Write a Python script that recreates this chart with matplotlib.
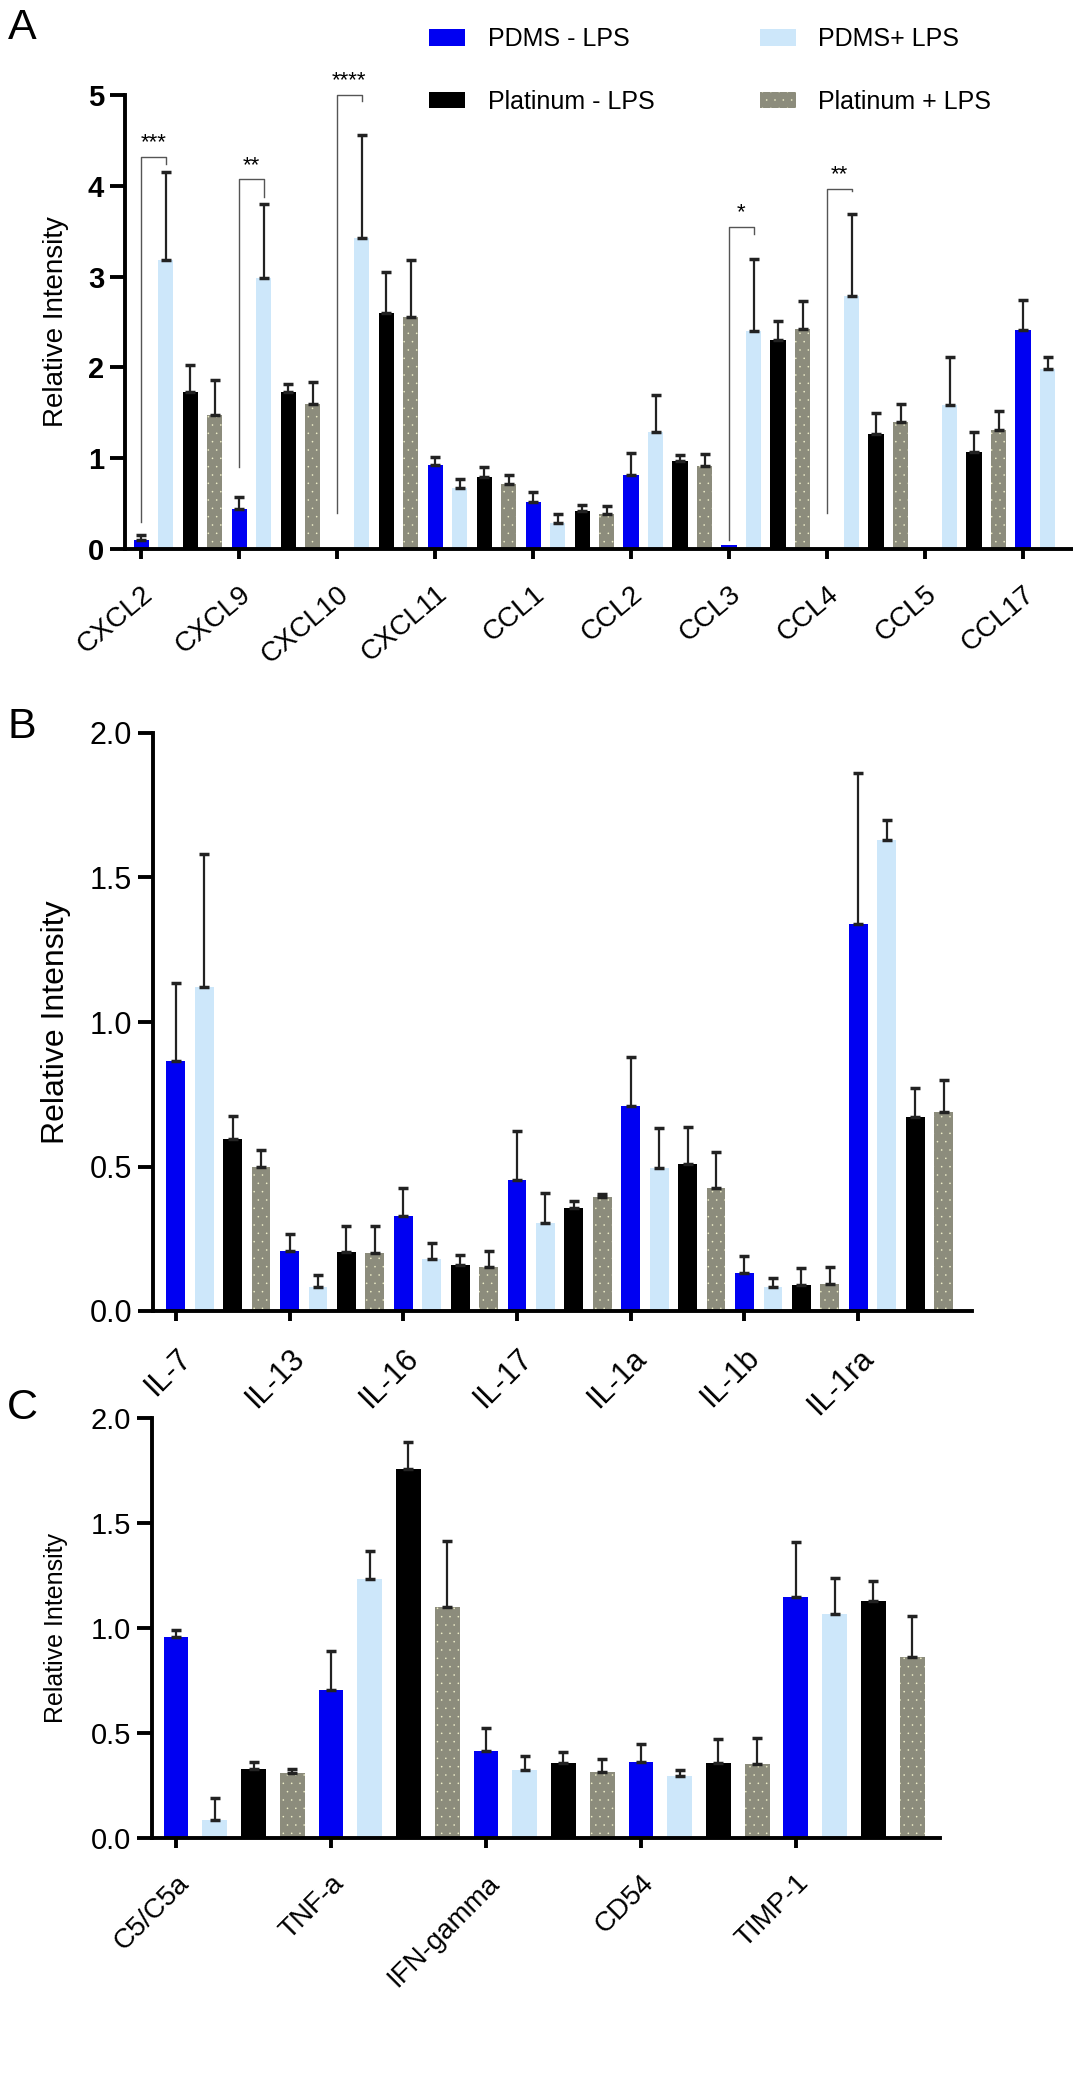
import numpy as np
import matplotlib
matplotlib.use("Agg")
import matplotlib.pyplot as plt
from matplotlib.patches import Patch

plt.rcParams['font.family'] = ['Liberation Sans', 'DejaVu Sans']
plt.rcParams['hatch.linewidth'] = 0.0

# ---- data ----
series = ['PDMS - LPS', 'PDMS+ LPS', 'Platinum - LPS', 'Platinum + LPS']

# panel A: chemokines
chemokines = ['CXCL2', 'CXCL9', 'CXCL10', 'CXCL11', 'CCL1', 'CCL2', 'CCL3', 'CCL4', 'CCL5', 'CCL17']
a_pdms_minus = [0.10, 0.44, 0.0, 0.93, 0.52, 0.81, 0.04, 0.0, 0.0, 2.41]
a_pdms_minus_sd = [0.05, 0.13, 0.0, 0.08, 0.11, 0.25, 0.0, 0.0, 0.0, 0.33]
a_pdms_plus = [3.18, 2.98, 3.43, 0.67, 0.29, 1.29, 2.40, 2.79, 1.59, 1.98]
a_pdms_plus_sd = [0.97, 0.82, 1.13, 0.10, 0.10, 0.41, 0.79, 0.90, 0.52, 0.13]
a_plat_minus = [1.73, 1.73, 2.60, 0.79, 0.42, 0.97, 2.30, 1.27, 1.07, np.nan]
a_plat_minus_sd = [0.30, 0.09, 0.45, 0.11, 0.07, 0.06, 0.21, 0.23, 0.22, np.nan]
a_plat_plus = [1.48, 1.60, 2.55, 0.72, 0.38, 0.91, 2.42, 1.40, 1.31, np.nan]
a_plat_plus_sd = [0.38, 0.24, 0.63, 0.10, 0.09, 0.14, 0.31, 0.20, 0.21, np.nan]

# significance (PDMS - LPS vs PDMS+ LPS)
sig_groups = [0, 1, 2, 6, 7]
sig_stars = ['***', '**', '****', '*', '**']
sig_top = [4.32, 4.07, 5.0, 3.55, 3.97]
sig_right_low = [4.24, 3.88, 4.93, 3.47, 3.94]
sig_left_low = [0.30, 0.90, 0.40, 0.10, 0.40]

# panel B: interleukins
interleukins = ['IL-7', 'IL-13', 'IL-16', 'IL-17', 'IL-1a', 'IL-1b', 'IL-1ra']
b_pdms_minus = [0.865, 0.206, 0.327, 0.453, 0.71, 0.132, 1.34]
b_pdms_minus_sd = [0.27, 0.06, 0.10, 0.17, 0.17, 0.06, 0.52]
b_pdms_plus = [1.12, 0.083, 0.181, 0.305, 0.494, 0.083, 1.63]
b_pdms_plus_sd = [0.46, 0.04, 0.054, 0.105, 0.14, 0.031, 0.07]
b_plat_minus = [0.595, 0.204, 0.159, 0.357, 0.509, 0.089, 0.67]
b_plat_minus_sd = [0.08, 0.089, 0.035, 0.023, 0.126, 0.059, 0.10]
b_plat_plus = [0.499, 0.201, 0.151, 0.395, 0.426, 0.093, 0.69]
b_plat_plus_sd = [0.057, 0.092, 0.058, 0.011, 0.125, 0.06, 0.11]

# panel C: other markers
markers = ['C5/C5a', 'TNF-a', 'IFN-gamma', 'CD54', 'TIMP-1']
c_pdms_minus = [0.955, 0.706, 0.415, 0.36, 1.15]
c_pdms_minus_sd = [0.035, 0.186, 0.11, 0.09, 0.26]
c_pdms_plus = [0.085, 1.234, 0.325, 0.293, 1.067]
c_pdms_plus_sd = [0.105, 0.135, 0.065, 0.03, 0.17]
c_plat_minus = [0.33, 1.755, 0.355, 0.355, 1.128]
c_plat_minus_sd = [0.03, 0.131, 0.055, 0.115, 0.098]
c_plat_plus = [0.31, 1.098, 0.315, 0.352, 0.863]
c_plat_plus_sd = [0.02, 0.315, 0.06, 0.125, 0.195]

# ---- styling ----
colors = ['#0000f2', '#cde7fa', '#000000', '#8c8c7c']
hatches = [None, None, None, '..']
hatch_col = '#eeeec8'
err_col = '#222222'


def draw_panel(ax, labels, vals, sds, width, xlim, ylim, yticks, fmt,
               tick_fs, tick_bold, xlab_fs, rot, ytick_len):
    x = np.arange(len(labels))
    for k in range(4):
        pos = x + 0.25 * k
        v = np.array(vals[k], dtype=float)
        s = np.array(sds[k], dtype=float)
        ok = ~np.isnan(v)
        if hatches[k]:
            ax.bar(pos[ok], v[ok], width=width, color=colors[k], hatch=hatches[k],
                   edgecolor=hatch_col, linewidth=0, zorder=2)
        else:
            ax.bar(pos[ok], v[ok], width=width, color=colors[k], linewidth=0, zorder=2)
        has = ok & (s > 0)
        ax.errorbar(pos[has], v[has], yerr=[np.zeros(has.sum()), s[has]], fmt='none',
                    ecolor=err_col, elinewidth=1.6, capsize=3.5, capthick=2.5, zorder=3)
    ax.set_xlim(*xlim)
    ax.set_ylim(*ylim)
    ax.spines['top'].set_visible(False)
    ax.spines['right'].set_visible(False)
    ax.spines['left'].set_linewidth(2.8)
    ax.spines['bottom'].set_linewidth(2.8)
    ax.set_yticks(yticks)
    ax.set_yticklabels([fmt % t for t in yticks], fontsize=tick_fs,
                       fontweight='bold' if tick_bold else 'normal')
    ax.tick_params(axis='y', length=ytick_len, width=2.8, pad=4)
    ax.set_xticks(x)
    ax.set_xticklabels(labels, rotation=rot, ha='right', rotation_mode='anchor',
                       fontsize=xlab_fs)
    ax.tick_params(axis='x', length=7, width=2.8, pad=16)


fig = plt.figure(figsize=(10.73, 21.0), dpi=100)
W, H = 1073.0, 2100.0


def axes_px(left, right, top, bottom):
    return fig.add_axes([left / W, 1 - bottom / H, (right - left) / W, (bottom - top) / H])


# panel A
axA = axes_px(125, 1073, 95, 549)
draw_panel(axA, chemokines,
           [a_pdms_minus, a_pdms_plus, a_plat_minus, a_plat_plus],
           [a_pdms_minus_sd, a_pdms_plus_sd, a_plat_minus_sd, a_plat_plus_sd],
           0.155, (-0.165, 9.51), (0, 5), [0, 1, 2, 3, 4, 5], '%d', 21, True, 20, 40, 11)

for g, st, top, rlow, llow in zip(sig_groups, sig_stars, sig_top, sig_right_low, sig_left_low):
    xl, xr = g, g + 0.25
    axA.plot([xl, xl, xr, xr], [llow, top, top, rlow], color='#555555', lw=1.0,
             clip_on=False, zorder=4)
    axA.text((xl + xr) / 2, top + 0.04, st, ha='center', va='bottom', fontsize=16,
             clip_on=False)

# panel B
axB = axes_px(153, 972, 733, 1311)
draw_panel(axB, interleukins,
           [b_pdms_minus, b_pdms_plus, b_plat_minus, b_plat_plus],
           [b_pdms_minus_sd, b_pdms_plus_sd, b_plat_minus_sd, b_plat_plus_sd],
           0.165, (-0.2, 7.0), (0, 2.0), [0, 0.5, 1.0, 1.5, 2.0], '%.1f', 22, False, 22, 45, 11)

# panel C
axC = axes_px(152, 940, 1418, 1838)
draw_panel(axC, markers,
           [c_pdms_minus, c_pdms_plus, c_plat_minus, c_plat_plus],
           [c_pdms_minus_sd, c_pdms_plus_sd, c_plat_minus_sd, c_plat_plus_sd],
           0.16, (-0.155, 4.93), (0, 2.0), [0, 0.5, 1.0, 1.5, 2.0], '%.1f', 21, False, 20, 45, 11)

# y labels and panel letters
for yc, fs in [(322, 20), (1022, 23), (1628, 18)]:
    fig.text(56 / W, 1 - yc / H, 'Relative Intensity', rotation=90, ha='center',
             va='center', fontsize=fs)
for letter, yc in [('A', 28), ('B', 727), ('C', 1408)]:
    fig.text(22 / W, 1 - yc / H, letter, ha='center', va='center', fontsize=31)

# legend
handles = [Patch(facecolor=colors[0], linewidth=0),
           Patch(facecolor=colors[2], linewidth=0),
           Patch(facecolor=colors[1], linewidth=0),
           Patch(facecolor=colors[3], hatch='..', edgecolor=hatch_col, linewidth=0)]
labels = [series[0], series[2], series[1], series[3]]
fig.legend(handles, labels, ncol=2, loc='upper left',
           bbox_to_anchor=(429 / W, 1 - 27 / H), frameon=False, fontsize=18,
           handlelength=1.45, handleheight=0.65, handletextpad=0.9,
           labelspacing=1.55, columnspacing=4.2, borderaxespad=0, borderpad=0)

fig.savefig('out.png', dpi=100)
